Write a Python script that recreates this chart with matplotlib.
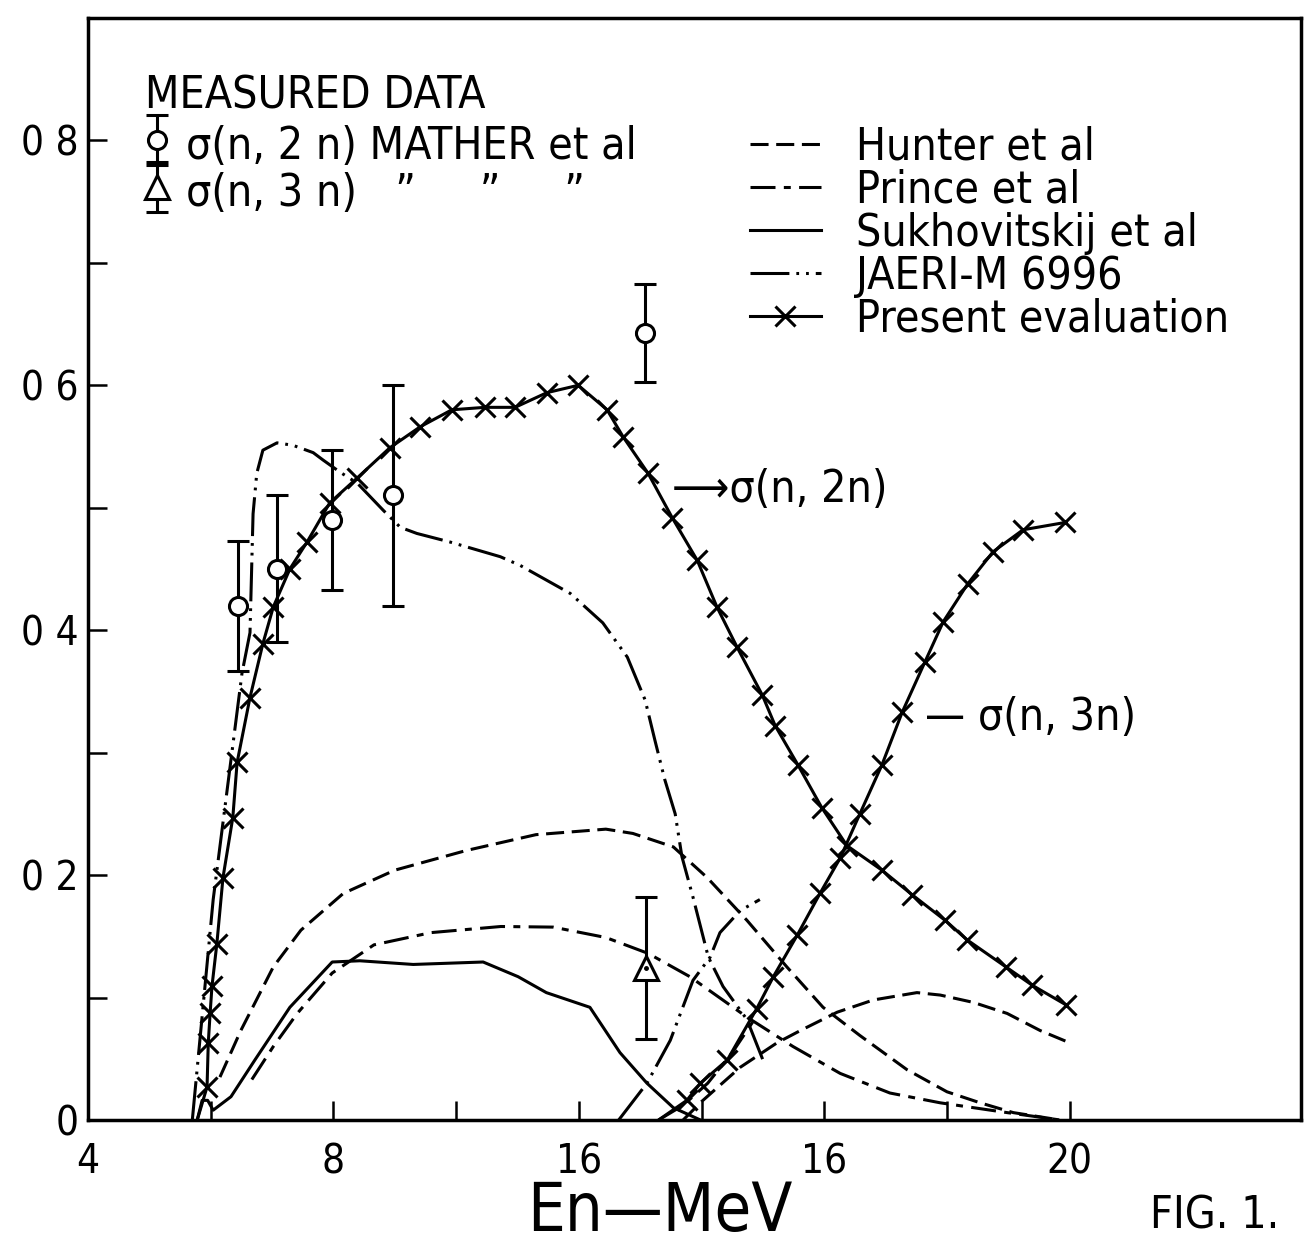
import matplotlib
matplotlib.use("Agg")
import matplotlib.pyplot as plt
from matplotlib.legend_handler import HandlerErrorbar
from matplotlib.container import ErrorbarContainer

# ---------------- data ----------------
present_2n_E = [5.78, 5.94, 5.96, 5.99, 6.02, 6.10, 6.20, 6.36, 6.43, 6.64,
                6.85, 7.02, 7.29, 7.57, 7.94, 8.38, 8.92, 9.41, 9.93, 10.47,
                10.96, 11.48, 11.99, 12.46, 12.72, 13.13, 13.52, 13.93, 14.25, 14.58,
                14.99, 15.20, 15.57, 15.96, 16.37, 16.94, 17.43, 17.97, 18.33, 18.96,
                19.39, 19.94]
present_2n_sig = [0.0, 0.027, 0.063, 0.087, 0.109, 0.144, 0.198, 0.247, 0.292, 0.345,
                  0.389, 0.419, 0.450, 0.472, 0.504, 0.524, 0.549, 0.566, 0.580, 0.582,
                  0.582, 0.594, 0.600, 0.580, 0.558, 0.528, 0.492, 0.457, 0.419, 0.386,
                  0.347, 0.322, 0.290, 0.255, 0.224, 0.204, 0.184, 0.163, 0.147, 0.125,
                  0.110, 0.094]

present_3n_E = [13.30, 13.76, 13.98, 14.42, 14.90, 15.17, 15.56, 15.93, 16.26, 16.58,
                16.94, 17.27, 17.64, 17.94, 18.34, 18.75, 19.24, 19.93]
present_3n_sig = [0.0, 0.016, 0.030, 0.049, 0.091, 0.117, 0.151, 0.185, 0.214, 0.250,
                  0.290, 0.333, 0.374, 0.407, 0.438, 0.464, 0.482, 0.488]

hunter_2n_E = [6.15, 6.49, 7.02, 7.47, 8.16, 9.00, 10.16, 11.30, 12.44, 12.88,
               13.54, 14.09, 14.74, 15.39, 15.98, 16.58, 17.35, 18.00, 18.54, 19.08, 19.84]
hunter_2n_sig = [0.035, 0.073, 0.125, 0.155, 0.185, 0.204, 0.220, 0.233, 0.2375, 0.234,
                 0.223, 0.198, 0.163, 0.125, 0.092, 0.069, 0.041, 0.023, 0.014, 0.006, 0.0]

hunter_3n_E = [13.70, 14.00, 14.63, 15.23, 15.61, 16.21, 16.80, 17.51, 17.89, 18.43,
               18.98, 19.52, 20.00]
hunter_3n_sig = [0.0, 0.015, 0.043, 0.063, 0.073, 0.088, 0.098, 0.104, 0.102, 0.096,
                 0.087, 0.073, 0.063]

prince_2n_E = [6.67, 7.02, 7.41, 7.98, 8.66, 9.59, 10.73, 11.58, 12.44, 13.13,
               13.81, 14.74, 15.49, 16.26, 17.07, 17.89, 18.98, 19.84]
prince_2n_sig = [0.033, 0.060, 0.087, 0.120, 0.143, 0.153, 0.158, 0.1575, 0.149, 0.136,
                 0.117, 0.084, 0.060, 0.038, 0.022, 0.014, 0.006, 0.0]

prince_3n_E = [13.30, 13.70, 14.10, 14.50, 14.90]
prince_3n_sig = [0.0, 0.012, 0.030, 0.055, 0.085]

sukh_2n_E = [5.78, 5.86, 5.95, 6.04, 6.33, 6.72, 7.29, 7.98, 8.43, 9.30,
             10.44, 11.01, 11.47, 12.18, 12.67, 13.11, 13.54, 13.98]
sukh_2n_sig = [0.0, 0.016, 0.016, 0.008, 0.019, 0.049, 0.092, 0.129, 0.130, 0.127,
               0.129, 0.117, 0.104, 0.092, 0.055, 0.030, 0.010, 0.0]

jaeri_2n_E = [5.70, 6.04, 6.51, 6.64, 6.69, 6.75, 6.85, 7.08, 7.34, 7.67,
              7.83, 8.11, 8.39, 8.81, 9.09, 9.36, 9.90, 10.72, 11.04, 11.86,
              12.39, 12.79, 13.08, 13.24, 13.40, 13.57, 13.68, 13.86, 14.11, 14.35,
              14.74, 15.00]
jaeri_2n_sig = [0.0, 0.180, 0.365, 0.398, 0.495, 0.528, 0.547, 0.553, 0.551, 0.545,
                0.539, 0.529, 0.520, 0.498, 0.484, 0.479, 0.472, 0.460, 0.453, 0.430,
                0.406, 0.378, 0.343, 0.310, 0.278, 0.250, 0.215, 0.182, 0.133, 0.109,
                0.082, 0.049]

jaeri_3n_E = [12.65, 13.11, 13.49, 13.86, 14.14, 14.30, 14.63, 14.95]
jaeri_3n_sig = [0.0, 0.030, 0.065, 0.114, 0.133, 0.153, 0.171, 0.180]

mather_2n_E = [6.45, 7.08, 7.98, 8.97, 13.08]
mather_2n_sig = [0.42, 0.45, 0.49, 0.51, 0.643]
mather_2n_err = [0.053, 0.060, 0.057, 0.090, 0.040]

mather_3n_E = [13.10]
mather_3n_sig = [0.124]
mather_3n_err = [0.058]

x_ticks = [4, 6, 8, 10, 12, 14, 16, 18, 20]
x_ticklabels = ["4", "", "8", "", "16", "", "16", "", "20"]
y_ticks = [0.0, 0.1, 0.2, 0.3, 0.4, 0.5, 0.6, 0.7, 0.8]
y_ticklabels = ["0", "", "0 2", "", "0 4", "", "0 6", "", "0 8"]

# ---------------- style ----------------
plt.rcParams["font.family"] = ["DejaVu Sans"]
plt.rcParams["font.stretch"] = "condensed"
plt.rcParams["lines.scale_dashes"] = False

FS = 32
TFS = 29
LW = 2.2
K = "black"

fig = plt.figure(figsize=(13.04, 12.48), dpi=100)
ax = fig.add_axes([0.0675, 0.1026, 0.9302, 0.883])

HUNTER = (13, 5.5)
PRINCE = (18, 6, 5, 6)
JAERI = (28, 5, 2, 5, 2, 5)

hun, = ax.plot(hunter_2n_E, hunter_2n_sig, color=K, lw=LW, dashes=HUNTER, label="Hunter et al")
ax.plot(hunter_3n_E, hunter_3n_sig, color=K, lw=LW, dashes=HUNTER)
pri, = ax.plot(prince_2n_E, prince_2n_sig, color=K, lw=LW, dashes=PRINCE, label="Prince et al")
ax.plot(prince_3n_E, prince_3n_sig, color=K, lw=LW, dashes=PRINCE)
suk, = ax.plot(sukh_2n_E, sukh_2n_sig, color=K, lw=LW, ls="-", label="Sukhovitskij et al")
jae, = ax.plot(jaeri_2n_E, jaeri_2n_sig, color=K, lw=LW, dashes=JAERI, label="JAERI-M 6996")
ax.plot(jaeri_3n_E, jaeri_3n_sig, color=K, lw=LW, dashes=JAERI)
pre, = ax.plot(present_2n_E, present_2n_sig, color=K, lw=LW, marker="x", ms=14, mew=2.2,
               markevery=list(range(1, len(present_2n_E))), label="Present evaluation")
ax.plot(present_3n_E, present_3n_sig, color=K, lw=LW, marker="x", ms=14, mew=2.2,
        markevery=list(range(1, len(present_3n_E))))

eb2 = ax.errorbar(mather_2n_E, mather_2n_sig, yerr=mather_2n_err, fmt="o", ms=13,
                  mfc="white", mec=K, mew=2.2, ecolor=K, elinewidth=2.2, capsize=8,
                  capthick=3, zorder=5)
eb3 = ax.errorbar(mather_3n_E, mather_3n_sig, yerr=mather_3n_err, fmt="^", ms=17,
                  mfc="white", mec=K, mew=2.2, ecolor=K, elinewidth=2.2, capsize=8,
                  capthick=3, zorder=5)
ax.plot(mather_3n_E, mather_3n_sig, ".", color=K, ms=5, zorder=6)

ax.set_xlim(4, 23.77)
ax.set_ylim(0, 0.9)
ax.set_xticks(x_ticks)
ax.set_xticklabels(x_ticklabels)
ax.set_yticks(y_ticks)
ax.set_yticklabels(y_ticklabels)
ax.tick_params(direction="in", length=14, width=1.8, labelsize=TFS, colors=K)
ax.tick_params(axis="x", pad=16)
ax.tick_params(axis="y", pad=7)
for s in ax.spines.values():
    s.set_linewidth(2.5)
    s.set_color(K)

# measured-data legend
ax.text(0.047, 0.929, "MEASURED DATA", transform=ax.transAxes, ha="left", va="center",
        fontsize=FS, color=K)
leg1 = ax.legend([eb2, eb3],
                 ["σ(n, 2 n) MATHER et al", "σ(n, 3 n)   \u201d     \u201d     \u201d"],
                 loc="upper left", bbox_to_anchor=(0.0441, 0.907),
                 frameon=False, prop={"size": FS},
                 handlelength=0.7, handletextpad=0.3, handleheight=1.25,
                 labelspacing=0.0, borderpad=0, borderaxespad=0,
                 handler_map={ErrorbarContainer: HandlerErrorbar(yerr_size=0.56)})
ax.add_artist(leg1)

# line-style legend
ax.legend([hun, pri, suk, jae, pre],
          ["Hunter et al", "Prince et al", "Sukhovitskij et al", "JAERI-M 6996",
           "Present evaluation"],
          loc="upper left", bbox_to_anchor=(0.546, 0.902), frameon=False,
          prop={"size": FS}, handlelength=1.58, handletextpad=0.8, labelspacing=0.0,
          numpoints=1, borderpad=0, borderaxespad=0)

ax.text(0.4815, 0.5717, "\u27f6σ(n, 2n)", transform=ax.transAxes, ha="left", va="center",
        fontsize=FS, color=K)
ax.text(0.690, 0.3648, "\u2014 σ(n, 3n)", transform=ax.transAxes, ha="left", va="center",
        fontsize=FS, color=K)

fig.text(0.506, 0.0288, "En\u2014MeV", ha="center", va="center", fontsize=48, color=K)
fig.text(0.882, 0.026, "FIG. 1.", ha="left", va="center", fontsize=FS, color=K)

fig.savefig("out.png", dpi=100, facecolor="white")
